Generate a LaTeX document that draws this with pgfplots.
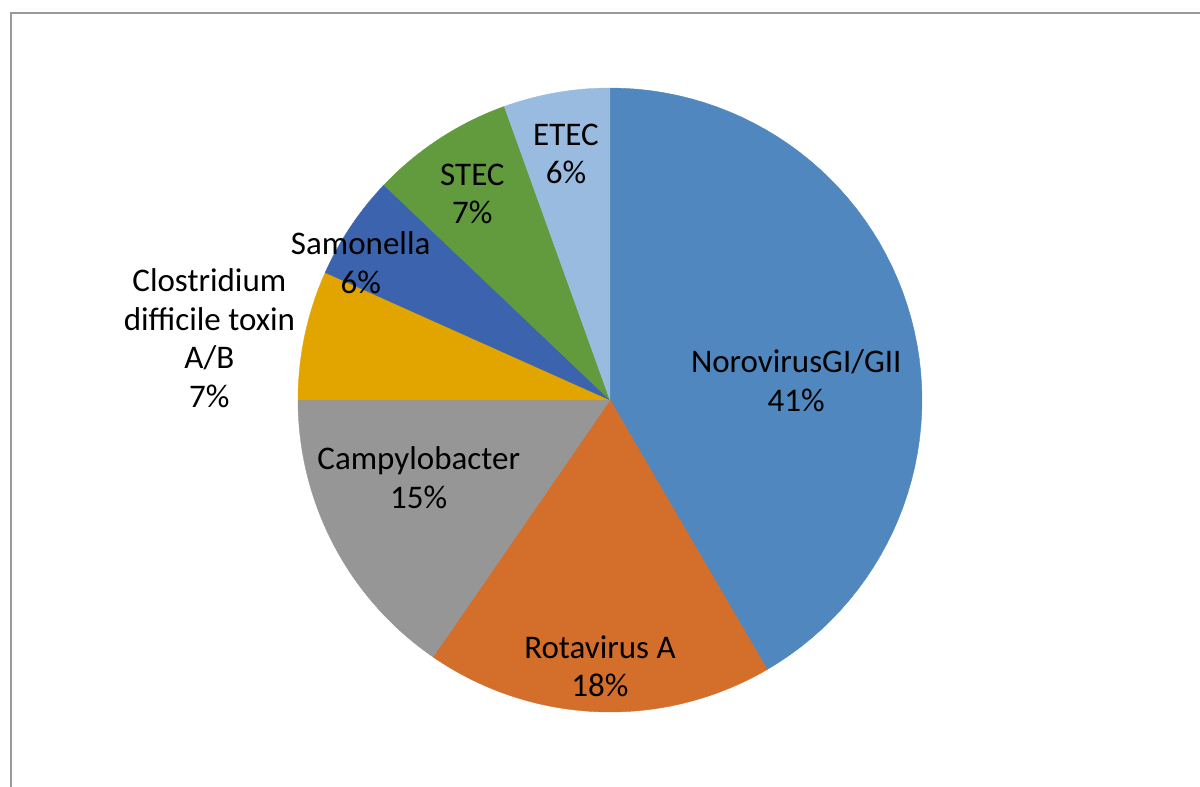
\documentclass[border=0pt]{standalone}
\usepackage{fontspec}
\setmainfont{Carlito}
\usepackage{pgfplots}
\pgfplotsset{compat=1.18}

\definecolor{cNoro}{HTML}{4F87BE}
\definecolor{cRota}{HTML}{D36E2B}
\definecolor{cCampy}{HTML}{969696}
\definecolor{cClost}{HTML}{E2A500}
\definecolor{cSalm}{HTML}{3C63AD}
\definecolor{cStec}{HTML}{629A3E}
\definecolor{cEtec}{HTML}{9ABBE0}
\definecolor{frame}{HTML}{9A9A9A}

\tikzset{lbl/.style={font=\fontsize{16.5}{19.3}\selectfont, align=center, text=black, inner sep=0pt}}

% one pie slice: #1 start (percent), #2 share (percent), #3 colour
% clockwise from 12 o'clock; first and last samples sit at the centre
\newcommand{\slice}[3]{%
  \addplot[fill=#3, draw=#3, line width=0.2pt, domain=-1:61, samples=63, variable=\t]
    ({(\t<-0.5 || \t>60.5) ? 0 : sin(3.6*(#1+#2*\t/60))},
     {(\t<-0.5 || \t>60.5) ? 0 : cos(3.6*(#1+#2*\t/60))});
}

\begin{document}
\begin{tikzpicture}
\useasboundingbox (-305pt,-193.5pt) rectangle (295pt,200pt);
\draw[frame, line width=1pt] (-299.5pt,-200pt) -- (-299.5pt,193.5pt) -- (300pt,193.5pt);
\begin{axis}[
    hide axis,
    anchor=origin,
    x=156pt, y=156pt,
    xmin=-1.5, xmax=1.5, ymin=-1.1, ymax=1.1,
    clip=false,
]
\slice{0}{41.6}{cNoro}
\slice{41.6}{18.0}{cRota}
\slice{59.6}{15.4}{cCampy}
\slice{75.0}{6.7}{cClost}
\slice{81.7}{5.4}{cSalm}
\slice{87.1}{7.4}{cStec}
\slice{94.5}{5.5}{cEtec}

\node[lbl] at (axis cs:0.597,0.061) {NorovirusGI/GII\\41\%};
\node[lbl] at (axis cs:-0.032,-0.853) {Rotavirus A\\18\%};
\node[lbl] at (axis cs:-0.613,-0.249) {Campylobacter\\15\%};
\node[lbl] at (axis cs:-1.284,0.198) {Clostridium\\difficile toxin\\A/B\\7\%};
\node[lbl] at (axis cs:-0.799,0.441) {Samonella\\6\%};
\node[lbl] at (axis cs:-0.441,0.661) {STEC\\7\%};
\node[lbl] at (axis cs:-0.141,0.789) {ETEC\\6\%};
\end{axis}
\end{tikzpicture}
\end{document}
